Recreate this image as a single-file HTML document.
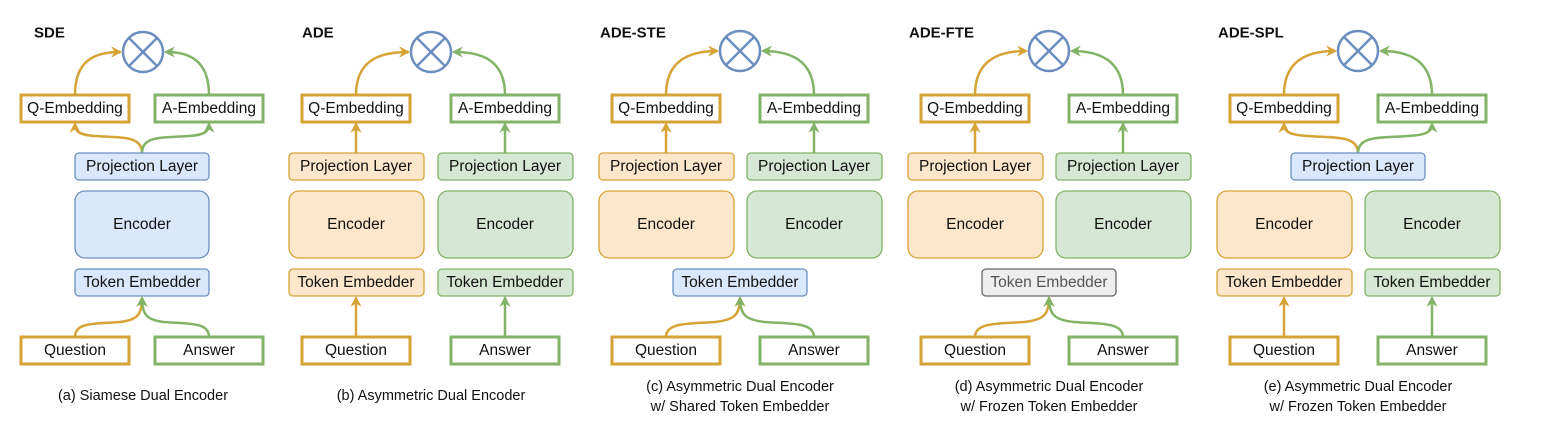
<!DOCTYPE html>
<html><head><meta charset="utf-8"><style>
html,body{margin:0;padding:0;background:#fff}
svg text{font-family:"Liberation Sans",sans-serif;font-size:15.5px;fill:#111;text-anchor:middle;dominant-baseline:central}
svg text.t{font-weight:bold;text-anchor:start;font-size:15px}
</style></head><body>
<svg width="1566" height="438" viewBox="0 0 1566 438" xmlns="http://www.w3.org/2000/svg">
<defs>
<marker id="ao" viewBox="0 0 10 10" refX="8" refY="5" markerWidth="11" markerHeight="11" orient="auto-start-reverse" markerUnits="userSpaceOnUse"><path d="M0,0 L10,5 L0,10 L3,5 z" fill="#d6a336"/></marker>
<marker id="ag" viewBox="0 0 10 10" refX="8" refY="5" markerWidth="11" markerHeight="11" orient="auto-start-reverse" markerUnits="userSpaceOnUse"><path d="M0,0 L10,5 L0,10 L3,5 z" fill="#82b366"/></marker>
</defs>
<style>
.o{stroke:#d6a336;stroke-width:2.5;fill:none}
.g{stroke:#82b366;stroke-width:2.5;fill:none}
.bo{stroke:#d6a336;stroke-width:3;fill:#fff}
.bg{stroke:#82b366;stroke-width:3;fill:#fff}
.fo{stroke:#d6a336;stroke-width:1.3;fill:#fce6cc}
.fg{stroke:#82b366;stroke-width:1.3;fill:#d5e8d4}
.fb{stroke:#6c8ebf;stroke-width:1.3;fill:#dae8fc}
.fx{stroke:#666;stroke-width:1.3;fill:#eee}
.c{font-size:14.5px}
</style>

<g>
<text x="34" y="33" class="t">SDE</text>
<circle cx="143" cy="52" r="20" fill="#fff" stroke="#6c8ebf" stroke-width="2.5"/>
<path d="M129,38 L157,66 M157,38 L129,66" stroke="#6c8ebf" stroke-width="2.5"/>
<path class="o" d="M75,95 C75,60 95,52 120,52" marker-end="url(#ao)"/>
<path class="g" d="M209,95 C209,60 189,52 166,52" marker-end="url(#ag)"/>
<rect class="bo" x="21" y="95" width="108" height="27"/><text x="75" y="108.5">Q-Embedding</text>
<rect class="bg" x="155" y="95" width="108" height="27"/><text x="209" y="108.5">A-Embedding</text>
<path class="o" d="M142,153 C142,135 120,138 95,136 C80,135 75,132 75,124" marker-end="url(#ao)"/>
<path class="g" d="M142,153 C142,135 164,138 189,136 C204,135 209,132 209,124" marker-end="url(#ag)"/>
<rect class="fb" x="75" y="153" width="134" height="27" rx="4"/><text x="142" y="166.5">Projection Layer</text>
<rect class="fb" x="75" y="191" width="134" height="67" rx="10"/><text x="142" y="224.5">Encoder</text>
<rect class="fb" x="75" y="269" width="134" height="27" rx="4"/><text x="142" y="282.5">Token Embedder</text>
<path class="o" d="M75,337 C75,322 95,324 120,322 C137,320 142,315 142,298" marker-end="url(#ao)"/>
<path class="g" d="M209,337 C209,322 189,324 164,322 C147,320 142,315 142,298" marker-end="url(#ag)"/>
<rect class="bo" x="21" y="337" width="108" height="27"/><text x="75" y="350.5">Question</text>
<rect class="bg" x="155" y="337" width="108" height="27"/><text x="209" y="350.5">Answer</text>
<text x="143" y="396" class="c">(a) Siamese Dual Encoder</text>
</g>

<g>
<text x="302" y="33" class="t">ADE</text>
<circle cx="431" cy="52" r="20" fill="#fff" stroke="#6c8ebf" stroke-width="2.5"/>
<path d="M417,38 L445,66 M445,38 L417,66" stroke="#6c8ebf" stroke-width="2.5"/>
<path class="o" d="M356,95 C356,60 380,52 408,52" marker-end="url(#ao)"/>
<path class="g" d="M505,95 C505,60 482,52 454,52" marker-end="url(#ag)"/>
<rect class="bo" x="302" y="95" width="108" height="27"/><text x="356" y="108.5">Q-Embedding</text>
<rect class="bg" x="451" y="95" width="108" height="27"/><text x="505" y="108.5">A-Embedding</text>
<path class="o" d="M356,153 L356,124" marker-end="url(#ao)"/>
<path class="g" d="M505,153 L505,124" marker-end="url(#ag)"/>
<rect class="fo" x="289" y="153" width="135" height="27" rx="4"/><text x="356" y="166.5">Projection Layer</text>
<rect class="fg" x="438" y="153" width="135" height="27" rx="4"/><text x="505" y="166.5">Projection Layer</text>
<rect class="fo" x="289" y="191" width="135" height="67" rx="10"/><text x="356" y="224.5">Encoder</text>
<rect class="fg" x="438" y="191" width="135" height="67" rx="10"/><text x="505" y="224.5">Encoder</text>
<rect class="fo" x="289" y="269" width="135" height="27" rx="4"/><text x="356" y="282.5">Token Embedder</text>
<rect class="fg" x="438" y="269" width="135" height="27" rx="4"/><text x="505" y="282.5">Token Embedder</text>
<path class="o" d="M356,337 L356,298" marker-end="url(#ao)"/>
<path class="g" d="M505,337 L505,298" marker-end="url(#ag)"/>
<rect class="bo" x="302" y="337" width="108" height="27"/><text x="356" y="350.5">Question</text>
<rect class="bg" x="451" y="337" width="108" height="27"/><text x="505" y="350.5">Answer</text>
<text x="431" y="396" class="c">(b) Asymmetric Dual Encoder</text>
</g>

<g>
<text x="600" y="33" class="t">ADE-STE</text>
<circle cx="740" cy="51" r="20" fill="#fff" stroke="#6c8ebf" stroke-width="2.5"/>
<path d="M726,37 L754,65 M754,37 L726,65" stroke="#6c8ebf" stroke-width="2.5"/>
<path class="o" d="M666,95 C666,60 690,51 717,51" marker-end="url(#ao)"/>
<path class="g" d="M814,95 C814,60 790,51 763,51" marker-end="url(#ag)"/>
<rect class="bo" x="612" y="95" width="108" height="27"/><text x="666" y="108.5">Q-Embedding</text>
<rect class="bg" x="760" y="95" width="108" height="27"/><text x="814" y="108.5">A-Embedding</text>
<path class="o" d="M666,153 L666,124" marker-end="url(#ao)"/>
<path class="g" d="M814,153 L814,124" marker-end="url(#ag)"/>
<rect class="fo" x="599" y="153" width="135" height="27" rx="4"/><text x="666" y="166.5">Projection Layer</text>
<rect class="fg" x="747" y="153" width="135" height="27" rx="4"/><text x="814" y="166.5">Projection Layer</text>
<rect class="fo" x="599" y="191" width="135" height="67" rx="10"/><text x="666" y="224.5">Encoder</text>
<rect class="fg" x="747" y="191" width="135" height="67" rx="10"/><text x="814" y="224.5">Encoder</text>
<rect class="fb" x="673" y="269" width="134" height="27" rx="4"/><text x="740" y="282.5">Token Embedder</text>
<path class="o" d="M666,337 C666,322 690,324 715,322 C734,320 740,315 740,298" marker-end="url(#ao)"/>
<path class="g" d="M814,337 C814,322 790,324 765,322 C746,320 740,315 740,298" marker-end="url(#ag)"/>
<rect class="bo" x="612" y="337" width="108" height="27"/><text x="666" y="350.5">Question</text>
<rect class="bg" x="760" y="337" width="108" height="27"/><text x="814" y="350.5">Answer</text>
<text x="740" y="387" class="c">(c) Asymmetric Dual Encoder</text>
<text x="740" y="407" class="c">w/ Shared Token Embedder</text>
</g>

<g transform="translate(309,0)">
<text x="600" y="33" class="t">ADE-FTE</text>
<circle cx="740" cy="51" r="20" fill="#fff" stroke="#6c8ebf" stroke-width="2.5"/>
<path d="M726,37 L754,65 M754,37 L726,65" stroke="#6c8ebf" stroke-width="2.5"/>
<path class="o" d="M666,95 C666,60 690,51 717,51" marker-end="url(#ao)"/>
<path class="g" d="M814,95 C814,60 790,51 763,51" marker-end="url(#ag)"/>
<rect class="bo" x="612" y="95" width="108" height="27"/><text x="666" y="108.5">Q-Embedding</text>
<rect class="bg" x="760" y="95" width="108" height="27"/><text x="814" y="108.5">A-Embedding</text>
<path class="o" d="M666,153 L666,124" marker-end="url(#ao)"/>
<path class="g" d="M814,153 L814,124" marker-end="url(#ag)"/>
<rect class="fo" x="599" y="153" width="135" height="27" rx="4"/><text x="666" y="166.5">Projection Layer</text>
<rect class="fg" x="747" y="153" width="135" height="27" rx="4"/><text x="814" y="166.5">Projection Layer</text>
<rect class="fo" x="599" y="191" width="135" height="67" rx="10"/><text x="666" y="224.5">Encoder</text>
<rect class="fg" x="747" y="191" width="135" height="67" rx="10"/><text x="814" y="224.5">Encoder</text>
<rect class="fx" x="673" y="269" width="134" height="27" rx="4"/><text x="740" y="282.5" style="fill:#555">Token Embedder</text>
<path class="o" d="M666,337 C666,322 690,324 715,322 C734,320 740,315 740,298" marker-end="url(#ao)"/>
<path class="g" d="M814,337 C814,322 790,324 765,322 C746,320 740,315 740,298" marker-end="url(#ag)"/>
<rect class="bo" x="612" y="337" width="108" height="27"/><text x="666" y="350.5">Question</text>
<rect class="bg" x="760" y="337" width="108" height="27"/><text x="814" y="350.5">Answer</text>
<text x="740" y="387" class="c">(d) Asymmetric Dual Encoder</text>
<text x="740" y="407" class="c">w/ Frozen Token Embedder</text>
</g>

<g transform="translate(618,0)">
<text x="600" y="33" class="t">ADE-SPL</text>
<circle cx="740" cy="51" r="20" fill="#fff" stroke="#6c8ebf" stroke-width="2.5"/>
<path d="M726,37 L754,65 M754,37 L726,65" stroke="#6c8ebf" stroke-width="2.5"/>
<path class="o" d="M666,95 C666,60 690,51 717,51" marker-end="url(#ao)"/>
<path class="g" d="M814,95 C814,60 790,51 763,51" marker-end="url(#ag)"/>
<rect class="bo" x="612" y="95" width="108" height="27"/><text x="666" y="108.5">Q-Embedding</text>
<rect class="bg" x="760" y="95" width="108" height="27"/><text x="814" y="108.5">A-Embedding</text>
<path class="o" d="M740,153 C740,135 715,138 690,136 C672,135 666,132 666,124" marker-end="url(#ao)"/>
<path class="g" d="M740,153 C740,135 765,138 790,136 C808,135 814,132 814,124" marker-end="url(#ag)"/>
<rect class="fb" x="673" y="153" width="134" height="27" rx="4"/><text x="740" y="166.5">Projection Layer</text>
<rect class="fo" x="599" y="191" width="135" height="67" rx="10"/><text x="666" y="224.5">Encoder</text>
<rect class="fg" x="747" y="191" width="135" height="67" rx="10"/><text x="814" y="224.5">Encoder</text>
<rect class="fo" x="599" y="269" width="135" height="27" rx="4"/><text x="666" y="282.5">Token Embedder</text>
<rect class="fg" x="747" y="269" width="135" height="27" rx="4"/><text x="814" y="282.5">Token Embedder</text>
<path class="o" d="M666,337 L666,298" marker-end="url(#ao)"/>
<path class="g" d="M814,337 L814,298" marker-end="url(#ag)"/>
<rect class="bo" x="612" y="337" width="108" height="27"/><text x="666" y="350.5">Question</text>
<rect class="bg" x="760" y="337" width="108" height="27"/><text x="814" y="350.5">Answer</text>
<text x="740" y="387" class="c">(e) Asymmetric Dual Encoder</text>
<text x="740" y="407" class="c">w/ Frozen Token Embedder</text>
</g>
</svg>
</body></html>
